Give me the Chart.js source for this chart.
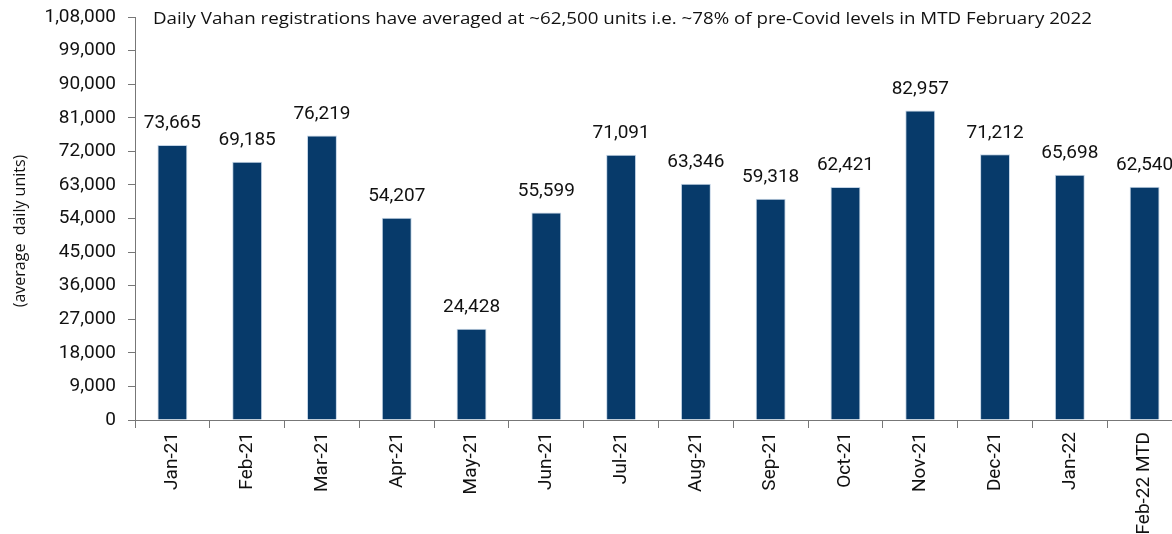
<!DOCTYPE html>
<html>
<head>
<meta charset="utf-8">
<script src="https://cdn.jsdelivr.net/npm/chart.js@4.4.1/dist/chart.umd.min.js"></script>
<style>
  html, body { margin: 0; padding: 0; background: #fff; overflow: hidden; }
  #wrap { width: 1184px; height: 534px; }
</style>
</head>
<body>
<div id="wrap"><canvas id="vahan" width="1184" height="534"></canvas></div>
<script>
const months = ['Jan-21', 'Feb-21', 'Mar-21', 'Apr-21', 'May-21', 'Jun-21', 'Jul-21',
  'Aug-21', 'Sep-21', 'Oct-21', 'Nov-21', 'Dec-21', 'Jan-22', 'Feb-22 MTD'];
const dailyAvg = [73665, 69185, 76219, 54207, 24428, 55599, 71091,
  63346, 59318, 62421, 82957, 71212, 65698, 62540];
const yMax = 108000;
const yStep = 9000;
const note = 'Daily Vahan registrations have averaged at ~62,500 units i.e. ~78% of pre-Covid levels in MTD February 2022';
const yTitle = '(average  daily units)';

const narrow = "Roboto, 'DejaVu Sans Condensed', sans-serif";
const plain = "'Open Sans', 'Noto Sans', sans-serif";

// indian grouping: 1,08,000
function inr(n) {
  const s = String(Math.round(n));
  if (s.length <= 3) return s;
  const last3 = s.slice(-3);
  const rest = s.slice(0, -3);
  return rest.replace(/\B(?=(\d{2})+(?!\d))/g, ',') + ',' + last3;
}

const barLabels = {
  id: 'barLabels',
  afterDatasetsDraw(chart) {
    const ctx = chart.ctx;
    const meta = chart.getDatasetMeta(0);
    ctx.save();
    ctx.font = '19px ' + narrow;
    ctx.fillStyle = '#111';
    ctx.textAlign = 'center';
    ctx.textBaseline = 'bottom';
    meta.data.forEach((bar, i) => {
      ctx.fillText(inr(dailyAvg[i]), bar.x, bar.y - 12);
    });
    ctx.restore();
  }
};

const textBits = {
  id: 'textBits',
  afterDraw(chart) {
    const ctx = chart.ctx;
    ctx.save();
    ctx.fillStyle = '#111';
    // note at top, stretched to the width it has in the original
    ctx.font = '16px ' + plain;
    ctx.textBaseline = 'middle';
    ctx.textAlign = 'left';
    const w = ctx.measureText(note).width;
    ctx.translate(153, 19);
    ctx.scale(939 / w, 1);
    ctx.fillText(note, 0, 0);
    ctx.restore();

    // rotated y title
    ctx.save();
    ctx.fillStyle = '#111';
    ctx.font = '16px ' + plain;
    ctx.textAlign = 'center';
    ctx.textBaseline = 'middle';
    ctx.translate(20, 231);
    ctx.rotate(-Math.PI / 2);
    ctx.fillText(yTitle, 0, 0);
    ctx.restore();
  }
};

new Chart(document.getElementById('vahan'), {
  type: 'bar',
  data: {
    labels: months,
    datasets: [{
      data: dailyAvg,
      backgroundColor: '#073a6a',
      borderColor: '#c3d4e6',
      borderWidth: 1,
      barPercentage: 0.8,
      categoryPercentage: 0.5
    }]
  },
  options: {
    responsive: false,
    animation: false,
    devicePixelRatio: 1,
    layout: { padding: { top: 0, left: 0, right: 2, bottom: 0 } },
    plugins: {
      legend: { display: false },
      tooltip: { enabled: false }
    },
    scales: {
      x: {
        afterFit(scale) { scale.height = 114; },
        grid: { drawOnChartArea: false, color: '#777', tickLength: 8, offset: true },
        border: { color: '#777' },
        ticks: {
          color: '#111',
          font: { size: 19, family: narrow },
          minRotation: 90,
          maxRotation: 90,
          autoSkip: false,
          padding: 4
        }
      },
      y: {
        min: 0,
        max: yMax,
        afterFit(scale) { scale.width = 135; scale.paddingTop = 17; },
        grid: { drawOnChartArea: false, color: '#777', tickLength: 7 },
        border: { color: '#777' },
        ticks: {
          stepSize: yStep,
          color: '#111',
          font: { size: 19, family: narrow },
          padding: 12,
          callback: v => inr(v)
        }
      }
    }
  },
  plugins: [barLabels, textBits]
});
</script>
</body>
</html>
